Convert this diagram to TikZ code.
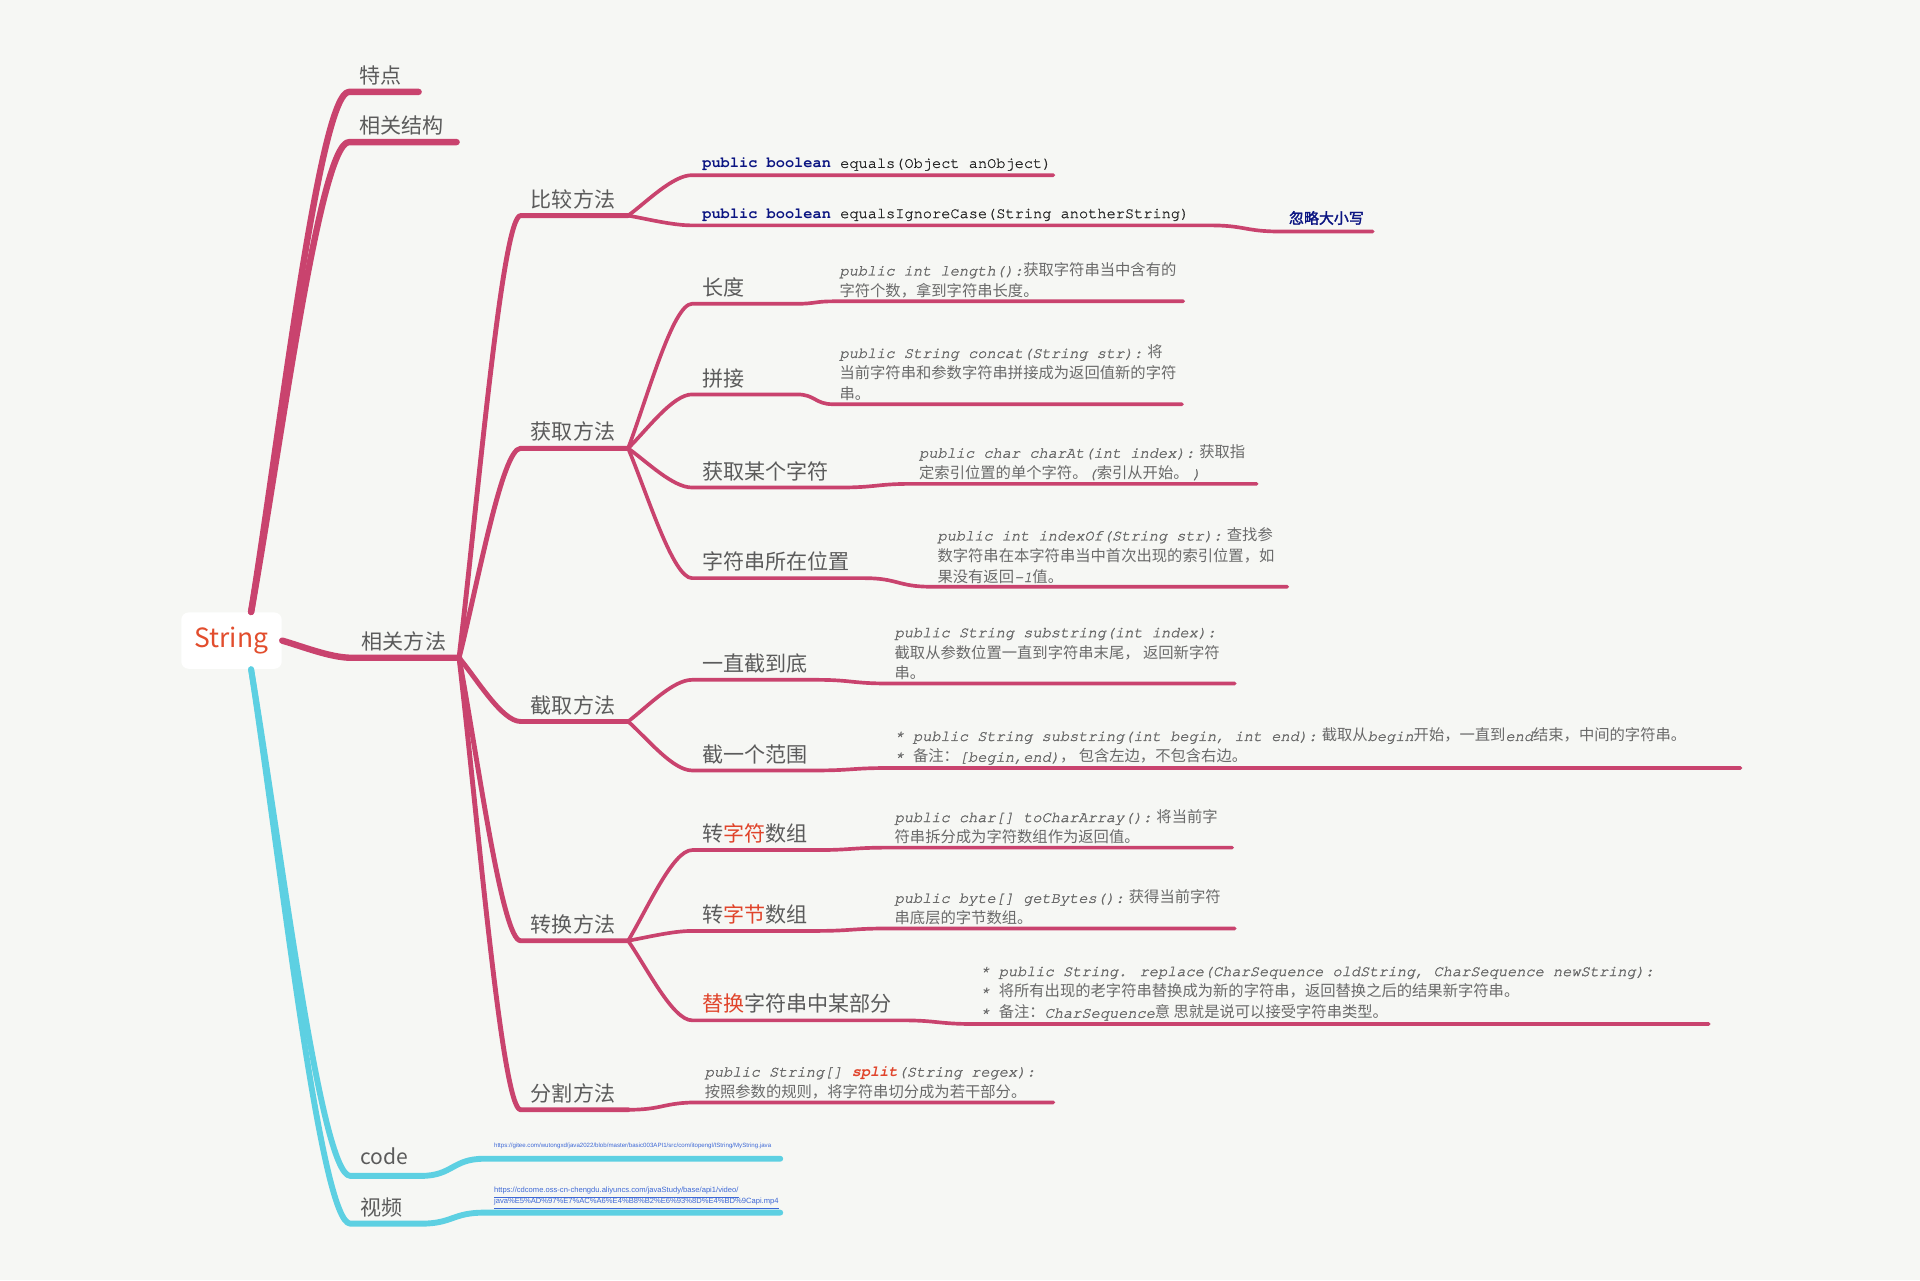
\documentclass[tikz,border=0pt]{standalone}
\usepackage{fontspec}
\setmainfont{Noto Sans CJK SC}
\newfontfamily\monofont{texgyrecursor-regular.otf}[FakeBold=1]
\newfontfamily\monobold{texgyrecursor-bold.otf}
\newfontfamily\urlfont{Liberation Sans}
\newfontfamily\codeit{texgyrecursor-italic.otf}[FakeBold=1.6]
\newfontfamily\codeitbold{texgyrecursor-bolditalic.otf}
\newfontfamily\cjkbold{Noto Sans CJK SC}[FakeBold=2]
\usetikzlibrary{calc}

\definecolor{Cbg}{HTML}{F6F7F4}
\definecolor{Cpink}{HTML}{C9436E}
\definecolor{Ccyan}{HTML}{5DD0E2}
\definecolor{Clabel}{HTML}{5B5B5B}
\definecolor{Cdesc}{HTML}{6A6A6A}
\definecolor{Chl}{HTML}{E0442B}
\definecolor{Cstring}{HTML}{E24D2D}
\definecolor{Cnavy}{HTML}{0B1582}
\definecolor{Curl}{HTML}{3D68D6}

\newcommand{\cd}[1]{{\codeit #1}}

\tikzset{%
    Droot/.style={fill=white, rounded corners=3pt, minimum width=41pt, minimum height=23pt, inner sep=0pt, text=Cstring, font=\fontsize{10.8}{12}\selectfont},
    Dlabel/.style={anchor=south west, inner xsep=4pt, inner ysep=2.5pt, align=left, text width=#1*0.5pt-8pt, text=Clabel, font=\fontsize{8.6}{10}\selectfont},
    Dnote/.style={Dlabel=#1, inner xsep=3.5pt, text width=#1*0.5pt-7pt, text=Cnavy, font=\cjkbold\fontsize{6.1}{8}\selectfont},
    Ddesc/.style={anchor=south west, inner xsep=2.5pt, inner ysep=1.2pt, align=left, text=Cdesc, font=\fontsize{6.25}{8.5}\selectfont},
    Dcode/.style={anchor=south west, inner xsep=4pt, inner ysep=1.5pt, text=black!85, font=\monofont\fontsize{6.25}{8}\selectfont},
    Durl/.style={anchor=south west, inner xsep=4pt, inner ysep=1pt, align=left, text=Curl,
        execute at begin node={\lineskiplimit=-10pt\relax}},
    Dline/.style={draw=#1, line cap=round, line join=round},
    Dlevel1/.style={Dline=Cpink, line width=2.6pt},
    Dlevel2/.style={Dline=Cpink, line width=2pt},
    Dlevel3/.style={Dline=Cpink, line width=1.5pt},
    Dcyan/.style={Dline=Ccyan, line width=2.4pt},
    Dfan/.style={to path={let \p1=(\tikztostart), \p2=(\tikztotarget) in
        .. controls ({\x1+0.3*(\x2-\x1)},{\y1+0.35*(\y2-\y1)}) and ({\x2-0.3*(\x2-\x1)},\y2) .. (\tikztotarget) \tikztonodes}},
    Dwave/.style={to path={let \p1=(\tikztostart), \p2=(\tikztotarget) in
        .. controls ({0.5*\x1+0.5*\x2},\y1) and ({0.5*\x1+0.5*\x2},\y2) .. (\tikztotarget) \tikztonodes}}
}

\begin{document}
\begin{tikzpicture}[x=0.5pt, y=-0.5pt]
    % background, fixes the page size
    \fill [Cbg] (0,0) rectangle (1567.5,1045);
    \useasboundingbox (0,0) rectangle (1567.5,1045);

    % root and first level
    \path
        (189,523) node [Droot] (Nstring) {String}
        (285,75)  node [Dlabel=56] (Ntrait) {特点}
        (285,116) node [Dlabel=87] (Nstruct) {相关结构}
        (287,537) node [Dlabel=87] (Nmethod) {相关方法}
        (286,960) node [Dlabel=57, inner ysep=4.5pt] (Ncode) {code}
        (286,999) node [Dlabel=57] (Nvideo) {视频};

    % method groups
    \path
        (425,176) node [Dlabel=87] (Ncompare) {比较方法}
        (425,366) node [Dlabel=87] (Nget) {获取方法}
        (425,589) node [Dlabel=87] (Ncut) {截取方法}
        (425,768) node [Dlabel=87] (Nconvert) {转换方法}
        (425,906) node [Dlabel=87] (Nsplit) {分割方法};

    % single methods
    \path
        (565,248) node [Dlabel=85]  (Nlength) {长度}
        (565,322) node [Dlabel=85]  (Nconcat) {拼接}
        (565,398) node [Dlabel=120] (NcharAt) {获取某个字符}
        (565,472) node [Dlabel=140] (NindexOf) {字符串所在位置}
        (565,555) node [Dlabel=100] (Nsubstr) {一直截到底}
        (565,629) node [Dlabel=100] (Nrange) {截一个范围}
        (565,694) node [Dlabel=100] (NtoChar) {转{\color{Chl}字符}数组}
        (565,760) node [Dlabel=100] (NtoByte) {转{\color{Chl}字节}数组}
        (565,833) node [Dlabel=170] (Nreplace) {{\color{Chl}替换}字符串中某部分}
        (565,143) node [Dcode] (Nequals) {{\monobold\color{Cnavy}public boolean} equals(Object anObject)}
        (565,184) node [Dcode] (Nignore) {{\monobold\color{Cnavy}public boolean} equalsIgnoreCase(String anotherString)}
        (1045,189) node [Dnote=75] (Nignorenote) {忽略大小写};

    % descriptions
    \path
        (680,246) node [Ddesc] (NlengthD)
            {\cd{public int length():}获取字符串当中含有的\\字符个数，拿到字符串长度。}
        (680,330) node [Ddesc] (NconcatD)
            {\cd{public String concat(String str):} 将\\当前字符串和参数字符串拼接成为返回值新的字符\\串。}
        (745,395) node [Ddesc] (NcharAtD)
            {\cd{public char charAt(int index):} 获取指\\定索引位置的单个字符。\cd{(}索引从开始。 \cd{)}}
        (760,479) node [Ddesc] (NindexOfD)
            {\cd{public int indexOf(String str):} 查找参\\数字符串在本字符串当中首次出现的索引位置，如\\果没有返回\cd{-1}值。}
        (725,558) node [Ddesc] (NsubstrD)
            {\cd{public String substring(int index):}\\截取从参数位置一直到字符串末尾， 返回新字符\\串。}
        (725,627) node [Ddesc] (NrangeD)
            {\cd{* public String substring(int begin, int end):} 截取从\cd{begin}开始，一直到\cd{end}结束，中间的字符串。\\\cd{* }备注：\cd{[begin,end)}， 包含左边，不包含右边。}
        (725,692) node [Ddesc] (NtoCharD)
            {\cd{public char[] toCharArray():} 将当前字\\符串拆分成为字符数组作为返回值。}
        (725,758) node [Ddesc] (NtoByteD)
            {\cd{public byte[] getBytes():} 获得当前字符\\串底层的字节数组。}
        (795,836) node [Ddesc] (NreplaceD)
            {\cd{* public String. replace(CharSequence oldString, CharSequence newString):}\\\cd{* }将所有出现的老字符串替换成为新的字符串，返回替换之后的结果新字符串。\\\cd{* }备注：\cd{CharSequence}意 思就是说可以接受字符串类型。}
        (570,900) node [Ddesc] (NsplitD)
            {\cd{public String[] }{\codeitbold\color{Chl}split}\cd{(String regex):}\\按照参数的规则，将字符串切分成为若干部分。}
        (395,946) node [Durl, inner ysep=4pt, font=\urlfont\fontsize{2.5}{3}\selectfont] (NcodeD)
            {https://gitee.com/wutongxd/java2022/blob/master/basic003API1/src/com/itopengl/IString/MyString.java}
        (395,990) node [Durl, inner ysep=0.8pt, font=\urlfont\fontsize{3.1}{4.4}\selectfont] (NvideoD)
            {\underline{https://cdcome.oss-cn-chengdu.aliyuncs.com/javaStudy/base/api1/video/}\\\underline{java\%E5\%AD\%97\%E7\%AC\%A6\%E4\%B8\%B2\%E6\%93\%8D\%E4\%BD\%9Capi.mp4}};

    % ends of the description lines
    \path
        (860,143)  coordinate (NequalsE)
        (988,184)  coordinate (NignoreE)
        (966,246)  coordinate (NlengthE)
        (965,330)  coordinate (NconcatE)
        (1026,395) coordinate (NcharAtE)
        (1051,479) coordinate (NindexOfE)
        (1008,558) coordinate (NsubstrE)
        (1421,627) coordinate (NrangeE)
        (1006,692) coordinate (NtoCharE)
        (1008,758) coordinate (NtoByteE)
        (1395,836) coordinate (NreplaceE)
        (860,900)  coordinate (NsplitE)
        (637,946)  coordinate (NcodeE)
        (637,990)  coordinate (NvideoE);

    % branches out of the root
    \foreach \cC in {Ntrait,Nstruct}
        \draw [Dlevel1] ([xshift=8pt]Nstring.north) to[Dfan] (\cC.south west) -- (\cC.south east);
    \draw [Dlevel1] (Nstring.east) to[Dfan] (Nmethod.south west) -- (Nmethod.south east);
    \foreach \cC/\cD/\cE in {Ncode/NcodeD/NcodeE, Nvideo/NvideoD/NvideoE}
        \draw [Dcyan] ([xshift=8pt]Nstring.south) to[Dfan] (\cC.south west) -- (\cC.south east)
            to[Dwave] (\cD.south west) -- (\cE);

    % method groups
    \foreach \cC in {Ncompare,Nget,Ncut,Nconvert,Nsplit}
        \draw [Dlevel2] (Nmethod.south east) to[Dfan] (\cC.south west) -- (\cC.south east);

    % single methods with their descriptions
    \foreach \cP/\cC/\cD/\cE in
            {Nget/Nlength/NlengthD/NlengthE,        Nget/Nconcat/NconcatD/NconcatE,
             Nget/NcharAt/NcharAtD/NcharAtE,        Nget/NindexOf/NindexOfD/NindexOfE,
             Ncut/Nsubstr/NsubstrD/NsubstrE,        Ncut/Nrange/NrangeD/NrangeE,
             Nconvert/NtoChar/NtoCharD/NtoCharE,    Nconvert/NtoByte/NtoByteD/NtoByteE,
             Nconvert/Nreplace/NreplaceD/NreplaceE}
        \draw [Dlevel3] (\cP.south east) to[Dfan] (\cC.south west) -- (\cC.south east)
            to[Dwave] (\cD.south west) -- (\cE);

    % compare and split
    \draw [Dlevel3] (Ncompare.south east) to[Dfan] (Nequals.south west) -- (NequalsE);
    \draw [Dlevel3] (Ncompare.south east) to[Dfan] (Nignore.south west) -- (NignoreE)
        to[Dwave] (Nignorenote.south west) -- (Nignorenote.south east);
    \draw [Dlevel3] (Nsplit.south east) to[Dwave] (NsplitD.south west) -- (NsplitE);

\end{tikzpicture}
\end{document}
